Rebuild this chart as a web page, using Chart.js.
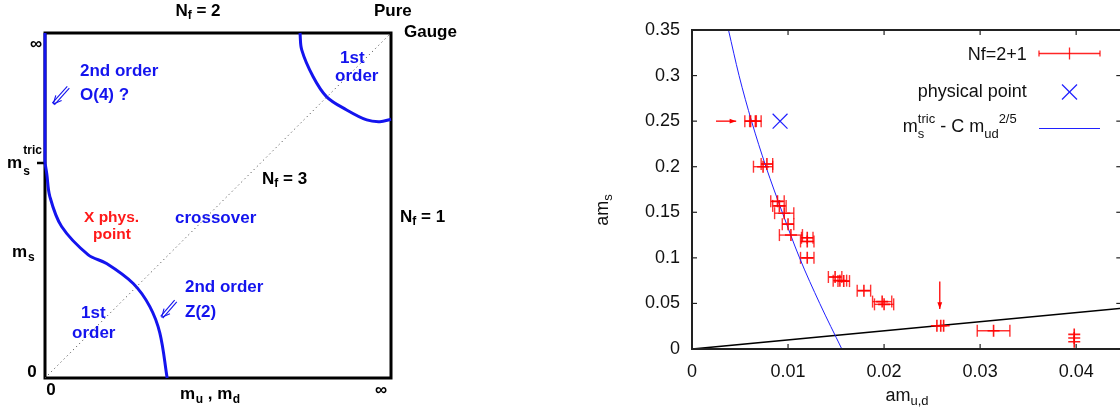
<!DOCTYPE html>
<html>
<head>
<meta charset="utf-8">
<script src="https://cdn.jsdelivr.net/npm/chart.js@4.4.1/dist/chart.umd.min.js"></script>
<style>
  html, body { margin: 0; padding: 0; background: #fff; overflow: hidden; }
  #wrap { position: relative; width: 1120px; height: 417px; overflow: hidden; }
  #left { position: absolute; left: 0; top: 0; }
  #right { position: absolute; left: 560px; top: 0; }
</style>
</head>
<body>
<div id="wrap">
  <canvas id="left" width="470" height="417"></canvas>
  <canvas id="right" width="573" height="417"></canvas>
</div>
<script>
// ---------- left panel: Columbia plot, masses scaled to 0..1 (1 = infinity)
var z2Mud = [0, 0.005, 0.014, 0.048, 0.125, 0.178, 0.255, 0.303, 0.332, 0.353];
var z2Ms  = [0.623, 0.593, 0.526, 0.439, 0.357, 0.332, 0.274, 0.207, 0.130, 0];
var o4Mud = [0, 0];
var o4Ms  = [1, 0.623];
var gaugeMud = [0.737, 0.742, 0.775, 0.814, 0.872, 0.930, 0.968, 1.0];
var gaugeMs  = [1, 0.951, 0.873, 0.815, 0.777, 0.748, 0.743, 0.750];
var nf3Mud = [0, 1];
var nf3Ms  = [0, 1];

// ---------- right panel: am_s vs am_ud
var nfMud = [0.0061, 0.0066, 0.0074, 0.0078, 0.0089, 0.0091, 0.0096, 0.0100, 0.0103,
             0.0120, 0.0120, 0.0120, 0.0149, 0.0154, 0.0158, 0.0179, 0.0198, 0.0200,
             0.0255, 0.0259, 0.0262, 0.0314, 0.0398, 0.0398, 0.0398];
var nfMs  = [0.250, 0.250, 0.200, 0.203, 0.162, 0.157, 0.149, 0.137, 0.125,
             0.122, 0.118, 0.100, 0.079, 0.075, 0.0745, 0.064, 0.052, 0.049,
             0.0255, 0.0255, 0.0255, 0.020, 0.016, 0.012, 0.008];
var nfErr = [0.0006, 0.0006, 0.0010, 0.0006, 0.0007, 0.0007, 0.0010, 0.0006, 0.0012,
             0.0006, 0.0007, 0.0007, 0.0007, 0.0007, 0.0006, 0.0007, 0.0010, 0.0010,
             0, 0, 0, 0.0017, 0, 0, 0];
var physMud = [0.00917];
var physMs  = [0.25];
var fitMud = [0.0038, 0.0049, 0.0062, 0.0077, 0.0094, 0.0112, 0.0133, 0.0156];
var fitMs  = [0.35, 0.30, 0.25, 0.20, 0.15, 0.10, 0.05, 0];
var diagMud = [0, 0.045];
var diagMs  = [0, 0.045];
var arrowFromMud = [0.0025, 0.0258];
var arrowFromMs  = [0.25, 0.074];
var arrowToMud   = [0.0046, 0.0258];
var arrowToMs    = [0.25, 0.044];

function pts(xs, ys) {
  return xs.map(function (x, i) { return { x: x, y: ys[i] }; });
}

var FAM = '"Liberation Sans", Arial, Helvetica, sans-serif';
var BLUE = '#1414ee';
var RED = '#ff1a1a';

// text with sub/superscripts: parts = [text, size, dy, stackOnPrevious]
function drawRich(ctx, x, y, parts, align, weight, color) {
  var cur = 0, prevStart = 0, prevW = 0, items = [];
  parts.forEach(function (p) {
    ctx.font = weight + ' ' + p[1] + 'px ' + FAM;
    var w = ctx.measureText(p[0]).width;
    var start = p[3] ? prevStart : cur;
    items.push({ t: p[0], size: p[1], dy: p[2], x: start });
    if (p[3]) { prevW = Math.max(prevW, w); cur = prevStart + prevW; }
    else { prevStart = start; prevW = w; cur = start + w; }
  });
  var x0 = align === 'right' ? x - cur : align === 'center' ? x - cur / 2 : x;
  ctx.fillStyle = color;
  ctx.textAlign = 'left';
  ctx.textBaseline = 'middle';
  items.forEach(function (it) {
    ctx.font = weight + ' ' + it.size + 'px ' + FAM;
    ctx.fillText(it.t, x0 + it.x, y + it.dy);
  });
}

function seg(ctx, x1, y1, x2, y2) {
  ctx.beginPath(); ctx.moveTo(x1, y1); ctx.lineTo(x2, y2); ctx.stroke();
}

// ---------- left chart
var leftDeco = {
  id: 'leftDeco',
  beforeDatasetsDraw: function (chart) {
    var ctx = chart.ctx, a = chart.chartArea;
    ctx.save();
    ctx.strokeStyle = '#000';
    ctx.lineWidth = 3;
    ctx.strokeRect(a.left, a.top, a.right - a.left, a.bottom - a.top);
    ctx.lineWidth = 2.5;
    seg(ctx, 37, 163, 45, 163);
    ctx.restore();
  },
  afterDatasetsDraw: function (chart) {
    var ctx = chart.ctx;
    ctx.save();
    var B = 'bold';
    // black labels
    drawRich(ctx, 198, 11, [['N', 17, 0], ['f', 12, 5], [' = 2', 17, 0]], 'center', B, '#000');
    drawRich(ctx, 374, 11, [['Pure', 17, 0]], 'left', B, '#000');
    drawRich(ctx, 404, 32, [['Gauge', 17, 0]], 'left', B, '#000');
    drawRich(ctx, 36, 44, [['\u221e', 17, 0]], 'center', B, '#000');
    drawRich(ctx, 7, 163, [['m', 17, 0], [' ', 4, 0], ['tric', 12, -12], ['s', 12, 9, true]], 'left', B, '#000');
    drawRich(ctx, 262, 179, [['N', 17, 0], ['f', 12, 5], [' = 3', 17, 0]], 'left', B, '#000');
    drawRich(ctx, 400, 217, [['N', 17, 0], ['f', 12, 5], [' = 1', 17, 0]], 'left', B, '#000');
    drawRich(ctx, 12, 252, [['m', 17, 0], [' ', 3, 0], ['s', 12, 6]], 'left', B, '#000');
    drawRich(ctx, 32, 372, [['0', 17, 0]], 'center', B, '#000');
    drawRich(ctx, 51, 390, [['0', 17, 0]], 'center', B, '#000');
    drawRich(ctx, 180, 394, [['m', 17, 0], [' ', 2, 0], ['u', 12, 6], [' , ', 17, 0], ['m', 17, 0], [' ', 2, 0], ['d', 12, 6]], 'left', B, '#000');
    drawRich(ctx, 381, 390, [['\u221e', 17, 0]], 'center', B, '#000');
    // blue labels
    drawRich(ctx, 80, 71, [['2nd order', 17, 0]], 'left', B, BLUE);
    drawRich(ctx, 80, 95, [['O(4) ?', 17, 0]], 'left', B, BLUE);
    drawRich(ctx, 340, 58, [['1st', 17, 0]], 'left', B, BLUE);
    drawRich(ctx, 335, 76, [['order', 17, 0]], 'left', B, BLUE);
    drawRich(ctx, 175, 218, [['crossover', 17, 0]], 'left', B, BLUE);
    drawRich(ctx, 185, 287, [['2nd order', 17, 0]], 'left', B, BLUE);
    drawRich(ctx, 185, 312, [['Z(2)', 17, 0]], 'left', B, BLUE);
    drawRich(ctx, 81, 313, [['1st', 17, 0]], 'left', B, BLUE);
    drawRich(ctx, 72, 333, [['order', 17, 0]], 'left', B, BLUE);
    // red labels
    drawRich(ctx, 84, 218, [['X phys.', 15.5, 0]], 'left', B, RED);
    drawRich(ctx, 93, 235, [['point', 15.5, 0]], 'left', B, RED);
    // the two little double arrows
    ctx.strokeStyle = BLUE;
    ctx.lineWidth = 1.1;
    [[68.3, 87.3, 53.3, 104], [175.7, 301, 161.7, 317.3]].forEach(function (r) {
      var ang = Math.atan2(r[3] - r[1], r[2] - r[0]);
      var nx = -Math.sin(ang) * 1.4, ny = Math.cos(ang) * 1.4;
      seg(ctx, r[0] + nx, r[1] + ny, r[2] + nx, r[3] + ny);
      seg(ctx, r[0] - nx, r[1] - ny, r[2] - nx, r[3] - ny);
      [0.45, -0.45].forEach(function (d) {
        seg(ctx, r[2], r[3], r[2] - 9 * Math.cos(ang + d), r[3] - 9 * Math.sin(ang + d));
      });
    });
    ctx.restore();
  }
};

new Chart(document.getElementById('left'), {
  type: 'scatter',
  data: {
    datasets: [
      { data: pts(nf3Mud, nf3Ms), showLine: true, borderColor: '#555', borderWidth: 1,
        borderDash: [1.2, 3.2], pointRadius: 0, clip: false },
      { data: pts(z2Mud, z2Ms), showLine: true, borderColor: BLUE, borderWidth: 3,
        tension: 0.35, pointRadius: 0, clip: false },
      { data: pts(o4Mud, o4Ms), showLine: true, borderColor: BLUE, borderWidth: 3,
        pointRadius: 0, clip: false },
      { data: pts(gaugeMud, gaugeMs), showLine: true, borderColor: BLUE, borderWidth: 3,
        tension: 0.35, pointRadius: 0, clip: false }
    ]
  },
  options: {
    responsive: false,
    animation: false,
    layout: { padding: { left: 45, top: 33, right: 79, bottom: 39 } },
    plugins: { legend: { display: false }, tooltip: { enabled: false } },
    scales: {
      x: { type: 'linear', min: 0, max: 1, display: false },
      y: { type: 'linear', min: 0, max: 1, display: false }
    }
  },
  plugins: [leftDeco]
});

// ---------- right chart
var rightDeco = {
  id: 'rightDeco',
  beforeDatasetsDraw: function (chart) {
    var ctx = chart.ctx, xs = chart.scales.x, ys = chart.scales.y;
    ctx.save();
    ctx.strokeStyle = 'rgba(255,0,0,0.8)';
    ctx.lineWidth = 1.4;
    nfMud.forEach(function (m, i) {
      if (!nfErr[i]) return;
      var y = ys.getPixelForValue(nfMs[i]);
      var x1 = xs.getPixelForValue(m - nfErr[i]), x2 = xs.getPixelForValue(m + nfErr[i]);
      seg(ctx, x1, y, x2, y);
      seg(ctx, x1, y - 6, x1, y + 6);
      seg(ctx, x2, y - 6, x2, y + 6);
    });
    ctx.restore();
  },
  afterDatasetsDraw: function (chart) {
    var ctx = chart.ctx, xs = chart.scales.x, ys = chart.scales.y, a = chart.chartArea;
    ctx.save();
    // arrows
    ctx.strokeStyle = '#ff0000';
    ctx.fillStyle = '#ff0000';
    ctx.lineWidth = 1.3;
    arrowFromMud.forEach(function (m, i) {
      var x1 = xs.getPixelForValue(m), y1 = ys.getPixelForValue(arrowFromMs[i]);
      var x2 = xs.getPixelForValue(arrowToMud[i]), y2 = ys.getPixelForValue(arrowToMs[i]);
      var ang = Math.atan2(y2 - y1, x2 - x1);
      seg(ctx, x1, y1, x2, y2);
      ctx.beginPath();
      ctx.moveTo(x2, y2);
      ctx.lineTo(x2 - 7 * Math.cos(ang - 0.35), y2 - 7 * Math.sin(ang - 0.35));
      ctx.lineTo(x2 - 7 * Math.cos(ang + 0.35), y2 - 7 * Math.sin(ang + 0.35));
      ctx.closePath();
      ctx.fill();
    });
    // frame and inward ticks (gnuplot style)
    ctx.strokeStyle = '#222';
    ctx.lineWidth = 2;
    ctx.strokeRect(a.left, a.top, a.right - a.left, a.bottom - a.top);
    ctx.lineWidth = 1.2;
    xs.ticks.forEach(function (t) {
      var px = xs.getPixelForValue(t.value);
      seg(ctx, px, a.bottom, px, a.bottom - 5);
      seg(ctx, px, a.top, px, a.top + 5);
    });
    ys.ticks.forEach(function (t) {
      var py = ys.getPixelForValue(t.value);
      seg(ctx, a.left, py, a.left + 5, py);
      seg(ctx, a.right, py, a.right - 5, py);
    });
    // axis titles
    ctx.save();
    ctx.translate(43, 210);
    ctx.rotate(-Math.PI / 2);
    drawRich(ctx, 0, 0, [['am', 18, 0], ['s', 13, 5]], 'center', 'normal', '#111');
    ctx.restore();
    drawRich(ctx, 347, 396, [['am', 18, 0], ['u,d', 13, 5]], 'center', 'normal', '#111');
    // key
    drawRich(ctx, 466.7, 55, [['Nf=2+1', 18, 0]], 'right', 'normal', '#111');
    ctx.strokeStyle = 'rgba(255,0,0,0.85)';
    ctx.lineWidth = 1.3;
    seg(ctx, 479, 53.5, 540, 53.5);
    seg(ctx, 479, 50.5, 479, 56.5);
    seg(ctx, 540, 50.5, 540, 56.5);
    seg(ctx, 509.5, 47.5, 509.5, 59.5);
    drawRich(ctx, 466.7, 92, [['physical point', 18, 0]], 'right', 'normal', '#111');
    ctx.strokeStyle = '#2020ff';
    ctx.lineWidth = 1.2;
    seg(ctx, 502, 84.5, 517, 99.5);
    seg(ctx, 502, 99.5, 517, 84.5);
    drawRich(ctx, 456.7, 127, [['m', 18, 0], ['tric', 13, -8], ['s', 13, 7, true],
      [' - C m', 18, 0], ['ud', 13, 7], ['2/5', 13, -8]], 'right', 'normal', '#111');
    ctx.strokeStyle = '#2020ff';
    ctx.lineWidth = 1;
    seg(ctx, 479, 128.5, 540, 128.5);
    ctx.restore();
  }
};

var tickFont = { family: FAM, size: 18 };
new Chart(document.getElementById('right'), {
  type: 'scatter',
  data: {
    datasets: [
      { label: 'Nf=2+1', data: pts(nfMud, nfMs), pointStyle: 'cross', pointRadius: 6,
        borderColor: 'rgba(255,0,0,0.9)', borderWidth: 1.6 },
      { label: 'physical point', data: pts(physMud, physMs), pointStyle: 'crossRot',
        pointRadius: 10.5, borderColor: '#2020ff', borderWidth: 1.2 },
      { label: 'fit', data: pts(fitMud, fitMs), showLine: true, borderColor: '#2020ff',
        borderWidth: 1, pointRadius: 0, cubicInterpolationMode: 'monotone' },
      { label: 'line', data: pts(diagMud, diagMs), showLine: true, borderColor: '#000',
        borderWidth: 1.6, pointRadius: 0 }
    ]
  },
  options: {
    responsive: false,
    animation: false,
    layout: { padding: { left: 0, top: 30, right: 1, bottom: 0 } },
    plugins: { legend: { display: false }, tooltip: { enabled: false } },
    scales: {
      x: {
        type: 'linear', min: 0, max: 0.0447,
        grid: { display: false, drawTicks: false },
        border: { display: false },
        ticks: { stepSize: 0.01, includeBounds: false, padding: 12, color: '#111', font: tickFont,
                 callback: function (v) { return String(+v.toFixed(3)); } },
        afterFit: function (s) { s.height = 68; }
      },
      y: {
        type: 'linear', min: 0, max: 0.35,
        grid: { display: false, drawTicks: false },
        border: { display: false },
        ticks: { stepSize: 0.05, includeBounds: false, padding: 12, color: '#111', font: tickFont,
                 callback: function (v) { return String(+v.toFixed(3)); } },
        afterFit: function (s) { s.width = 132; }
      }
    }
  },
  plugins: [rightDeco]
});
</script>
</body>
</html>
